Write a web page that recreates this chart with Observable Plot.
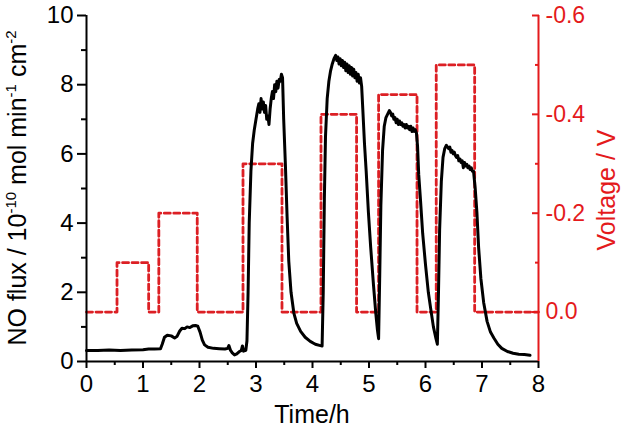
<!DOCTYPE html>
<html><head><meta charset="utf-8">
<script src="https://cdn.jsdelivr.net/npm/d3@7"></script>
<script src="https://cdn.jsdelivr.net/npm/@observablehq/plot@0.6"></script>
<style>body{margin:0;background:#fff} svg{display:block}</style>
</head><body><div id="chart"></div>
<script>
// NO flux (10^-10 mol min^-1 cm^-2) vs time (h)
const timeH = [0,0.2,0.4,0.6,0.8,1.0,1.1,1.2,1.31,
 1.34,1.38,1.43,1.50,1.56,1.60,1.65,1.69,1.74,1.78,1.83,1.88,1.93,1.97,2.01,2.05,2.09,2.15,2.25,2.35,2.45,2.50,2.52,2.55,2.58,2.62,2.66,2.70,2.74,2.76,2.78,2.82,2.84,
 2.86,2.88,2.91,2.94,2.97,3.00,3.03,3.05,3.07,3.09,3.11,3.13,3.15,3.17,3.19,3.21,3.23,3.25,3.27,3.29,3.31,3.33,3.35,3.37,3.39,3.41,3.43,3.45,3.47,
 3.49,3.52,3.55,3.58,3.62,3.67,3.72,3.79,3.87,3.96,4.05,4.14,4.17,
 4.19,4.21,4.23,4.26,4.29,4.32,4.35,4.38,4.41,4.43,4.45,4.47,4.49,4.51,4.53,4.55,4.57,4.59,4.61,4.63,4.65,4.67,4.69,4.71,4.73,4.75,4.77,4.79,4.81,4.83,4.85,4.87,
 4.89,4.92,4.95,4.99,5.03,5.08,5.12,5.15,5.17,
 5.19,5.21,5.24,5.27,5.30,5.33,5.36,5.38,5.40,5.42,5.44,5.46,5.48,5.50,5.52,5.54,5.56,5.58,5.60,5.62,5.64,5.66,5.68,5.70,5.72,5.74,5.76,5.78,5.80,5.82,5.84,
 5.86,5.88,5.91,5.95,6.00,6.05,6.09,6.14,6.18,6.21,
 6.23,6.25,6.28,6.31,6.34,6.37,6.39,6.41,6.43,6.45,6.47,6.49,6.51,6.53,6.55,6.57,6.59,6.61,6.63,6.65,6.67,6.69,6.71,6.73,6.75,6.77,6.79,6.81,6.83,6.85,
 6.88,6.91,6.94,6.98,7.03,7.09,7.15,7.21,7.28,7.35,7.45,7.55,7.65,7.75,7.85];
const noFlux = [0.32,0.32,0.33,0.32,0.33,0.34,0.36,0.36,0.37,
 0.5,0.7,0.76,0.74,0.68,0.72,0.88,0.96,0.95,1.0,0.98,1.03,1.04,1.02,0.85,0.62,0.48,0.41,0.38,0.37,0.36,0.38,0.46,0.32,0.25,0.19,0.22,0.28,0.32,0.45,0.30,0.32,0.6,
 2.0,4.0,5.5,6.3,6.7,7.0,7.3,7.45,7.2,7.6,7.3,7.5,7.2,7.4,7.0,7.1,6.85,7.3,7.6,7.8,7.6,8.0,7.8,8.1,7.9,8.15,8.1,8.3,8.2,
 7.0,5.7,4.2,2.9,2.0,1.4,1.1,0.87,0.7,0.58,0.5,0.46,0.45,
 2.0,4.7,6.5,7.6,8.1,8.4,8.6,8.75,8.85,8.7,8.8,8.6,8.75,8.55,8.7,8.5,8.65,8.4,8.6,8.35,8.55,8.3,8.5,8.25,8.45,8.2,8.35,8.1,8.3,8.05,8.2,7.95,
 7.3,6.3,5.5,4.3,3.3,2.2,1.4,0.9,0.66,
 2.5,4.5,6.1,6.8,7.05,7.15,7.25,7.2,7.1,7.15,7.0,7.05,6.9,7.0,6.85,6.95,6.85,6.9,6.8,6.85,6.75,6.85,6.75,6.8,6.7,6.8,6.65,6.75,6.65,6.7,6.6,
 6.2,5.4,4.7,3.7,2.8,2.0,1.55,1.0,0.7,0.5,
 2.0,3.8,5.2,5.9,6.15,6.25,6.2,6.15,6.2,6.05,6.1,6.0,6.05,5.95,5.9,5.95,5.8,5.85,5.75,5.8,5.6,5.75,5.65,5.7,5.6,5.65,5.55,5.6,5.5,5.5,
 5.0,4.3,3.3,2.4,1.7,1.16,0.85,0.68,0.5,0.38,0.29,0.24,0.21,0.2,0.18];

// Applied voltage (V), step-after
const stepTime = [0,0.54,1.10,1.28,1.96,2.77,3.46,4.15,4.78,5.17,5.85,6.19,6.87,8.0];
const stepVolt = [0,-0.1,0,-0.2,0,-0.3,0,-0.4,0,-0.44,0,-0.5,0,0];

const leftTicks = [0,2,4,6,8,10];
const leftMinor = [1,3,5,7,9];
const xTicks = [0,1,2,3,4,5,6,7,8];
const xMinor = [0.5,1.5,2.5,3.5,4.5,5.5,6.5,7.5];
const voltTicks = [0,-0.2,-0.4,-0.6];
const voltMinor = [-0.1,-0.3,-0.5];
const voltDomain = [0.1,-0.6];

const RED = "#e41a1c";
const DASHRED = "#dc1f24";
const toLeft = v => (voltDomain[0]-v)/(voltDomain[0]-voltDomain[1])*10;
const fromLeft = d => { const v = Math.round((voltDomain[0] - d*(voltDomain[0]-voltDomain[1])/10)*10)/10; return v === 0 ? "0.0" : v.toFixed(1); };
const blank = () => "";

const flux = timeH.map((t,i)=>({t, f: noFlux[i]}));
const volt = stepTime.map((t,i)=>({t, v: stepVolt[i]}));

const chart = Plot.plot({
  width: 625, height: 428,
  marginLeft: 86, marginRight: 87, marginTop: 15, marginBottom: 67,
  style: {fontFamily: "'Liberation Sans', Arial, sans-serif", background: "#fff"},
  x: {domain: [0,8]},
  y: {domain: [0,10]},
  marks: [
    Plot.line(volt, {x: "t", y: d => toLeft(d.v), curve: "step-after", stroke: DASHRED, strokeWidth: 2.8, strokeDasharray: "6,3.5"}),
    Plot.line(flux, {x: "t", y: "f", stroke: "black", strokeWidth: 3}),
    Plot.axisY({ticks: leftTicks, tickSize: 9, tickPadding: 4, fontSize: 24, strokeWidth: 2, label: null, color: "black"}),
    Plot.axisY({ticks: leftMinor, tickSize: 5, tickFormat: blank, strokeWidth: 2, label: null}),
    Plot.axisX({ticks: xTicks, tickSize: 7, tickPadding: 6, fontSize: 24, strokeWidth: 2, label: null}),
    Plot.axisX({ticks: xMinor, tickSize: 4, tickFormat: blank, strokeWidth: 2, label: null}),
    Plot.axisY({anchor: "right", ticks: voltTicks.map(toLeft), tickSize: 7, dx: -7, tickFormat: blank, stroke: RED, strokeWidth: 2, label: null}),
    Plot.axisY({anchor: "right", ticks: voltMinor.map(toLeft), tickSize: 4, dx: -4, tickFormat: blank, stroke: RED, strokeWidth: 2, label: null}),
    Plot.axisY({anchor: "right", ticks: voltTicks.map(toLeft), tickFormat: fromLeft, tickSize: 0, tickPadding: 7, fontSize: 23, fill: RED, label: null}),
    Plot.ruleX([0], {stroke: "black", strokeWidth: 2}),
    Plot.ruleY([0], {stroke: "black", strokeWidth: 2}),
    Plot.ruleX([8], {stroke: RED, strokeWidth: 2})
  ]
});
document.getElementById("chart").appendChild(chart);

const svg = d3.select(chart);
const ff = "'Liberation Sans', Arial, sans-serif";
// left title with superscripts
const lt = svg.append("text").attr("transform", "translate(26,188) rotate(-90)")
  .attr("text-anchor", "middle").attr("font-size", 25).attr("font-family", ff).attr("fill", "black");
const parts = [["NO flux / 10",false],["-10",true],[" mol min",false],["-1",true],[" cm",false],["-2",true]];
parts.forEach(([s, sup], i) => {
  const ts = lt.append("tspan").text(s);
  if (sup) ts.attr("font-size", 15).attr("dy", -10);
  else if (i > 0) ts.attr("dy", 10);
});
svg.append("text").attr("transform", "translate(615,190) rotate(-90)")
  .attr("text-anchor", "middle").attr("font-size", 25).attr("font-family", ff).attr("fill", RED).text("Voltage / V");
svg.append("text").attr("x", 312).attr("y", 423)
  .attr("text-anchor", "middle").attr("font-size", 25).attr("font-family", ff).attr("fill", "black").text("Time/h");
</script></body></html>
